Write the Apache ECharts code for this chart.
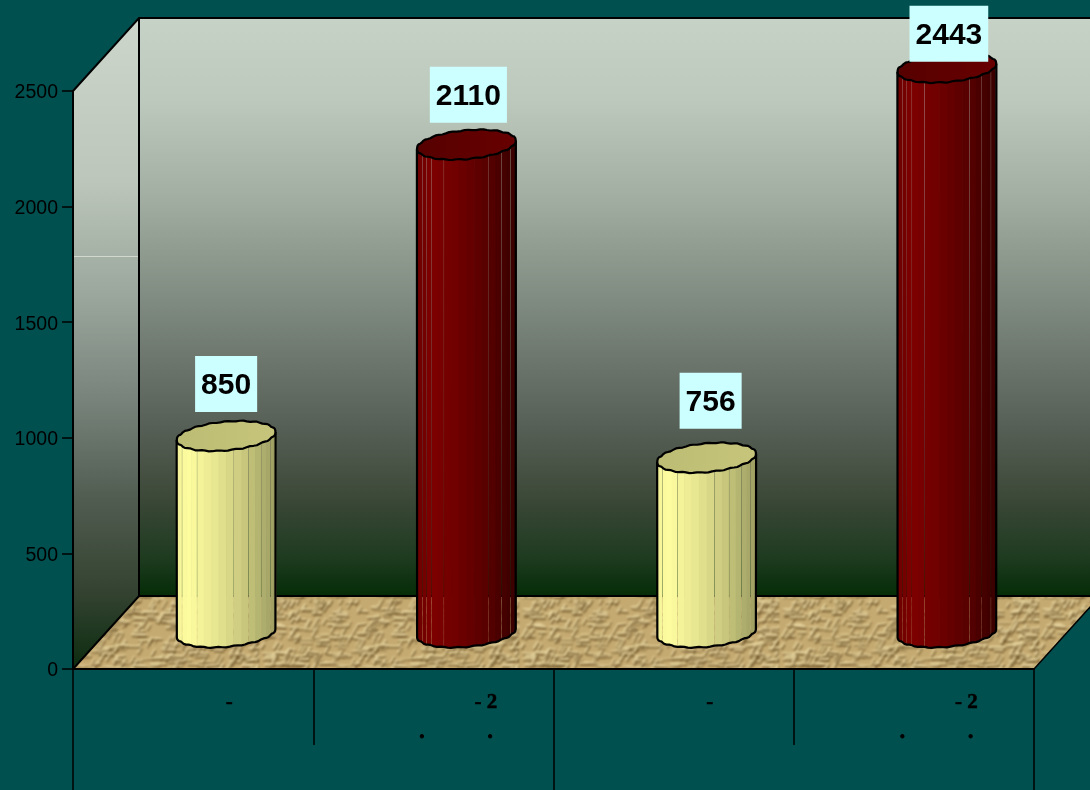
<!DOCTYPE html>
<html>
<head>
<meta charset="utf-8">
<title>Chart</title>
<script src="https://cdn.jsdelivr.net/npm/echarts@6/dist/echarts.min.js"></script>
<style>
  html, body { margin: 0; padding: 0; background: #005050; overflow: hidden; }
  #chart { width: 1090px; height: 790px; }
</style>
</head>
<body>
<div id="chart"></div>
<script>
// values
const categories = ["a", "b", "c", "d"];
const values = [850, 2110, 756, 2443];
const barKinds = ["pale", "dark", "pale", "dark"];
const yTicks = [0, 500, 1000, 1500, 2000, 2500];
const upperLabels = ["-", "- 2", "-", "- 2"];
const lowerLabels = ["", ". .", "", ". ."];

// oblique depth of the box
const DEPTH_X = 66;
const DEPTH_Y = -73;

// hand placed value boxes in the original, offset from the top of the cylinder
const labelNudge = [[0, -52], [2, -50], [4, -57], [2, -34]];

const PALETTES = {
  pale: {
    side: [[0, "#f2f198"], [0.1, "#fefea0"], [0.22, "#f6f59b"], [0.5, "#dcdb8a"], [0.75, "#c0bf78"], [1, "#9c9c62"]],
    top: ["#bdbc74", "#c6c57b"],
    gaps: [3, 6, 11, 13, 15, 17],
  },
  dark: {
    side: [[0, "#6c0000"], [0.15, "#7e0000"], [0.4, "#700000"], [0.7, "#580000"], [1, "#380000"]],
    top: ["#560000", "#680000"],
    gaps: [3, 4, 5, 7, 13, 15, 17, 19],
  },
};

function hexToRgb(hex) {
  const n = parseInt(hex.slice(1), 16);
  return [(n >> 16) & 255, (n >> 8) & 255, n & 255];
}

function sampleStops(stops, u) {
  for (let i = 1; i < stops.length; i++) {
    if (u <= stops[i][0]) {
      const a = hexToRgb(stops[i - 1][1]);
      const b = hexToRgb(stops[i][1]);
      const f = (u - stops[i - 1][0]) / (stops[i][0] - stops[i - 1][0]);
      return "rgb(" + a.map((v, j) => Math.round(v + (b[j] - v) * f)).join(",") + ")";
    }
  }
  return stops[stops.length - 1][1];
}

// embossed tile for the floor, fixed sequence so every run looks the same
function makeFloorTile() {
  const raw = document.createElement("canvas");
  raw.width = 260;
  raw.height = 120;
  const ctx = raw.getContext("2d");
  ctx.fillStyle = "#c4a970";
  ctx.fillRect(0, 0, 260, 120);
  let seed = 4242;
  const next = () => {
    seed = (seed * 1103515245 + 12345) & 0x7fffffff;
    return seed / 0x7fffffff;
  };
  ctx.lineCap = "round";
  for (let i = 0; i < 850; i++) {
    const x = next() * 260;
    const y = next() * 120;
    const flat = next() < 0.55;
    const len = flat ? 5 + next() * 9 : 4 + next() * 6;
    const dx = flat ? len : len * 0.5;
    const dy = flat ? (next() - 0.5) * 2 : -len * 0.85;
    const strength = 0.4 + next() * 0.45;
    ctx.lineWidth = 1.6 + next() * 1.6;
    ctx.strokeStyle = "rgba(110,84,40," + strength + ")";
    ctx.beginPath();
    ctx.moveTo(x + 0.8, y + 1.8);
    ctx.lineTo(x + dx + 0.8, y + dy + 1.8);
    ctx.stroke();
    ctx.strokeStyle = "rgba(232,214,160," + strength + ")";
    ctx.beginPath();
    ctx.moveTo(x, y);
    ctx.lineTo(x + dx, y + dy);
    ctx.stroke();
  }
  const tile = document.createElement("canvas");
  tile.width = 260;
  tile.height = 120;
  const out = tile.getContext("2d");
  // opaque base first, the blur fades the edges of each copy
  out.fillStyle = "#c4a970";
  out.fillRect(0, 0, 260, 120);
  out.filter = "blur(0.9px)";
  for (const ox of [-260, 0, 260]) {
    for (const oy of [-120, 0, 120]) {
      out.drawImage(raw, ox, oy);
    }
  }
  return tile;
}

const floorTile = makeFloorTile();

function renderBox(params, api) {
  const g = params.coordSys;
  const left = g.x, right = g.x + g.width, top = g.y, bottom = g.y + g.height;
  const wallFill = new echarts.graphic.LinearGradient(0, 0, 0, 1, [
    { offset: 0, color: "#c7d2c6" },
    { offset: 0.14, color: "#bec9bd" },
    { offset: 0.31, color: "#a3aea2" },
    { offset: 0.49, color: "#7f8a80" },
    { offset: 0.71, color: "#565f55" },
    { offset: 0.83, color: "#3c4838" },
    { offset: 0.94, color: "#1c3a1e" },
    { offset: 1, color: "#042c06" },
  ]);
  const sideFill = new echarts.graphic.LinearGradient(0, 0, 0, 1, [
    { offset: 0, color: "#cdd6cb" },
    { offset: 0.25, color: "#bcc6ba" },
    { offset: 0.43, color: "#9aa69c" },
    { offset: 0.59, color: "#77837a" },
    { offset: 0.74, color: "#505c50" },
    { offset: 0.88, color: "#344331" },
    { offset: 1, color: "#0c2c10" },
  ]);
  const edge = { stroke: "#000", lineWidth: 2 };
  return {
    type: "group",
    children: [
      {
        type: "polygon",
        shape: { points: [[left + DEPTH_X, top + DEPTH_Y], [right + DEPTH_X, top + DEPTH_Y], [right + DEPTH_X, bottom + DEPTH_Y], [left + DEPTH_X, bottom + DEPTH_Y]] },
        style: { fill: wallFill },
      },
      {
        type: "polygon",
        shape: { points: [[left, top], [left + DEPTH_X, top + DEPTH_Y], [left + DEPTH_X, bottom + DEPTH_Y], [left, bottom]] },
        style: { fill: sideFill },
      },
      {
        type: "polygon",
        shape: { points: [[left, bottom], [left + DEPTH_X, bottom + DEPTH_Y], [right + DEPTH_X, bottom + DEPTH_Y], [right, bottom]] },
        style: { fill: { image: floorTile, repeat: "repeat" } },
      },
      // stray light line on the side wall
      { type: "line", shape: { x1: left, y1: 256.5, x2: left + DEPTH_X, y2: 256.5 }, style: { stroke: "#d3d8cf", lineWidth: 1 } },
      {
        type: "polyline",
        shape: { points: [[left, top], [left + DEPTH_X, top + DEPTH_Y], [right + DEPTH_X, top + DEPTH_Y]] },
        style: Object.assign({ fill: null }, edge),
      },
      {
        type: "polyline",
        shape: { points: [[left, bottom], [left + DEPTH_X, bottom + DEPTH_Y], [right + DEPTH_X, bottom + DEPTH_Y]] },
        style: Object.assign({ fill: null }, edge),
      },
      { type: "line", shape: { x1: left + DEPTH_X, y1: top + DEPTH_Y, x2: left + DEPTH_X, y2: bottom + DEPTH_Y }, style: edge },
      { type: "line", shape: { x1: right, y1: bottom, x2: right + DEPTH_X, y2: bottom + DEPTH_Y }, style: { stroke: "#000", lineWidth: 1.5 } },
    ],
  };
}

function renderCylinder(params, api) {
  const idx = api.value(0);
  const value = api.value(1);
  const kind = PALETTES[barKinds[idx]];
  const base = api.coord([idx, 0]);
  const head = api.coord([idx, value]);
  const cx = base[0] + DEPTH_X / 2;
  const baseY = base[1] + DEPTH_Y / 2;
  const topY = head[1] + DEPTH_Y / 2;

  // circle on the floor plane seen in the same oblique view as the box
  const A = 47.6, B = 13.5, C = 15;
  const at = (t, y) => [cx + A * Math.cos(t) + B * Math.sin(t), y - C * Math.sin(t)];
  // the original outline is slightly uneven
  const rough = (t, y) => {
    const p = at(t, y);
    return [p[0] + 0.2 * Math.sin(17 * t), p[1] + 0.45 * Math.sin(19 * t + 1)];
  };
  const start = Math.PI + Math.atan2(B, A);
  const N = 20;
  const children = [];

  for (let k = 0; k < N; k++) {
    const t0 = start + (k / N) * Math.PI;
    const t1 = start + ((k + 1) / N) * Math.PI;
    const a = at(t0, topY), b = at(t1, topY), c = at(t1, baseY), d = at(t0, baseY);
    // most facets overlap the next one, a few leave a hair of gap like the original
    const pad = kind.gaps.includes(k + 1) ? -0.12 : 0.7;
    const lead = kind.gaps.includes(k) ? 0.12 : 0;
    const u = (0.5 * (a[0] + b[0]) - (cx - 49.5)) / 99;
    children.push({
      type: "polygon",
      shape: { points: [[a[0] + lead, a[1]], [b[0] + pad, b[1]], [c[0] + pad, c[1]], [d[0] + lead, d[1]]] },
      style: { fill: sampleStops(kind.side, u) },
    });
  }

  const outline = [at(start, topY)];
  for (let k = 0; k <= 40; k++) {
    outline.push(rough(start + (k / 40) * Math.PI, baseY));
  }
  outline.push(at(start + Math.PI, topY));
  children.push({
    type: "polyline",
    shape: { points: outline },
    style: { fill: null, stroke: "#000", lineWidth: 2.2, lineJoin: "round" },
  });

  const lid = [];
  for (let k = 0; k < 80; k++) {
    lid.push(rough((k / 80) * Math.PI * 2, topY));
  }
  children.push({
    type: "polygon",
    shape: { points: lid },
    style: {
      fill: new echarts.graphic.LinearGradient(0, 0, 1, 0, [
        { offset: 0, color: kind.top[0] },
        { offset: 1, color: kind.top[1] },
      ]),
      stroke: "#000",
      lineWidth: 2.2,
      lineJoin: "round",
    },
  });

  const nudge = labelNudge[idx];
  children.push({
    type: "text",
    style: {
      x: cx + nudge[0],
      y: topY + nudge[1],
      text: "{v|" + value + "}",
      align: "center",
      verticalAlign: "middle",
      rich: {
        v: {
          fontFamily: "Liberation Sans",
          fontWeight: "bold",
          fontSize: 30,
          fill: "#000",
          padding: [4, 0, 0, 0],
        },
      },
      backgroundColor: "#ccffff",
      padding: [11, 6, 11, 6],
    },
  });

  return { type: "group", children: children };
}

const serifBold = {
  fontFamily: "Liberation Serif",
  fontWeight: "bold",
  fontSize: 21,
  color: "#000",
  textBorderColor: "#000",
  textBorderWidth: 0.5,
};

const chart = echarts.init(document.getElementById("chart"));

chart.setOption({
  animation: false,
  backgroundColor: "#005050",
  grid: { left: 73, right: 56, top: 91, bottom: 121 },
  xAxis: [
    {
      type: "category",
      data: categories,
      position: "bottom",
      z: 5,
      axisLine: { lineStyle: { color: "#000", width: 2 } },
      axisTick: { show: true, alignWithLabel: false, length: 76, lineStyle: { color: "#000", width: 1.5 } },
      axisLabel: {
        interval: 0,
        margin: 23,
        formatter: (v) => {
          const text = upperLabels[categories.indexOf(v)];
          return text.length > 1 ? "{two|" + text + "}" : "{one|" + text + "}";
        },
        rich: {
          one: Object.assign({ padding: [0, 0, 0, 72] }, serifBold),
          two: Object.assign({ padding: [0, 0, 0, 105] }, serifBold),
        },
      },
    },
    {
      // outer level of the category axis, two long dividers
      type: "category",
      data: ["", ""],
      position: "bottom",
      z: 5,
      axisLine: { show: false },
      axisTick: { show: true, length: 130, lineStyle: { color: "#000", width: 1.5 } },
      axisLabel: { show: false },
    },
    {
      // second row of the labels
      type: "category",
      data: lowerLabels,
      position: "bottom",
      z: 5,
      axisLine: { show: false },
      axisTick: { show: false },
      axisLabel: Object.assign({}, serifBold, {
        interval: 0,
        margin: 53,
        textBorderWidth: 1,
        formatter: (v) => {
          if (!v) return "";
          return v.split(" ").join("\u00a0".repeat(12));
        },
        padding: [0, 0, 0, 45],
      }),
    },
  ],
  yAxis: {
    type: "value",
    min: yTicks[0],
    max: yTicks[yTicks.length - 1],
    interval: yTicks[1] - yTicks[0],
    z: 5,
    splitLine: { show: false },
    axisLine: { show: true, lineStyle: { color: "#000", width: 2 } },
    axisTick: { show: true, length: 11, lineStyle: { color: "#000", width: 1.5 } },
    axisLabel: {
      margin: 15,
      formatter: (v) => "{n|" + v + "}",
      rich: {
        n: { fontFamily: "Liberation Sans", fontSize: 19.5, color: "#000", padding: [4, 0, 0, 0] },
      },
    },
  },
  series: [
    {
      name: "box",
      type: "custom",
      xAxisIndex: 0,
      yAxisIndex: 0,
      silent: true,
      z: 1,
      renderItem: renderBox,
      data: [[0, 0]],
    },
    {
      name: "values",
      type: "custom",
      xAxisIndex: 0,
      yAxisIndex: 0,
      z: 3,
      renderItem: renderCylinder,
      encode: { x: 0, y: 1 },
      data: values.map((v, i) => [i, v]),
    },
  ],
});

window.addEventListener("resize", () => chart.resize());
</script>
</body>
</html>
